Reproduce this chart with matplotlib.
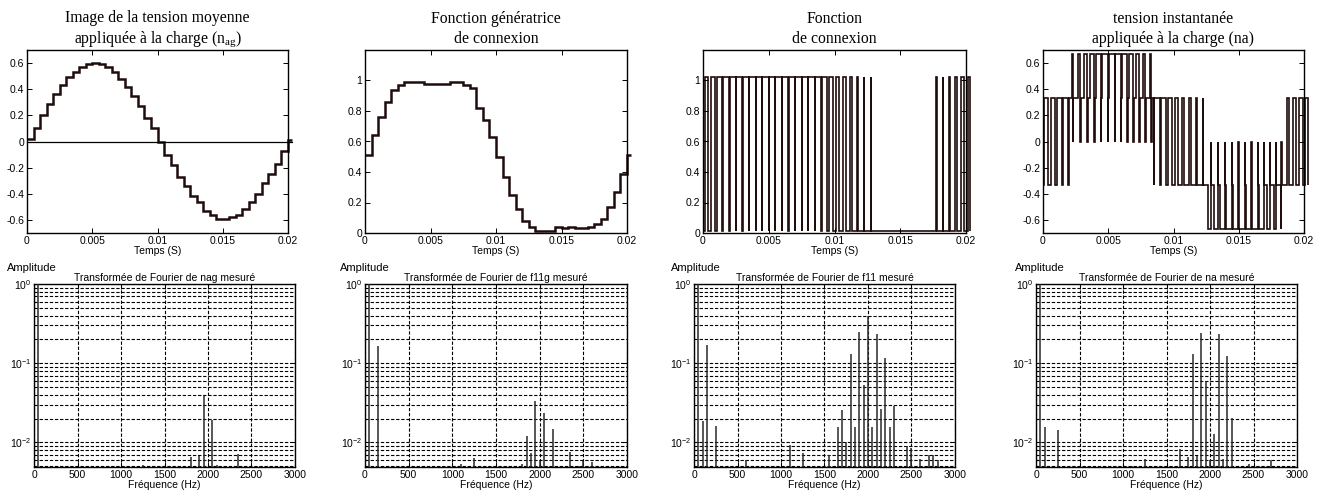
import numpy as np
import matplotlib
matplotlib.use('Agg')
import matplotlib.pyplot as plt
from matplotlib.ticker import LogLocator, LogFormatterMathtext, NullFormatter, FixedLocator

plt.rcParams['font.family'] = ['Liberation Sans', 'DejaVu Sans']
plt.rcParams['mathtext.fontset'] = 'custom'
plt.rcParams['mathtext.rm'] = 'Liberation Sans'
plt.rcParams['mathtext.it'] = 'Liberation Sans:italic'

# ---------------- data ----------------
T = 0.0005          # carrier period (s)
t_end = 0.0203      # signals run slightly past the last tick

# mean-voltage image n_ag, one level per carrier period
nag_levels = [0.02, 0.10, 0.20, 0.29, 0.36, 0.43, 0.49, 0.53, 0.57, 0.59,
              0.60, 0.59, 0.57, 0.53, 0.48, 0.42, 0.35, 0.27, 0.18, 0.10,
              0.00, -0.10, -0.18, -0.27, -0.34, -0.42, -0.46, -0.53, -0.56, -0.59,
              -0.59, -0.58, -0.56, -0.52, -0.46, -0.40, -0.32, -0.25, -0.17, -0.07,
              0.01]

# generating connection function f11g
f11g_levels = [0.51, 0.64, 0.76, 0.86, 0.94, 0.97, 0.99, 0.99, 0.99, 0.98,
               0.98, 0.98, 0.98, 0.99, 0.99, 0.97, 0.95, 0.82, 0.74, 0.63,
               0.50, 0.37, 0.25, 0.16, 0.08, 0.04, 0.01, 0.01, 0.01, 0.04,
               0.03, 0.04, 0.03, 0.03, 0.04, 0.06, 0.09, 0.17, 0.27, 0.39,
               0.51]

# connection function f11: duty of the high state in each period
f11_duty = [0.50, 0.64, 0.76, 0.86, 0.93, 0.96, 0.98, 0.98, 0.98, 0.98,
            0.98, 0.98, 0.98, 0.98, 0.98, 0.96, 0.94, 0.82, 0.74, 0.63,
            0.50, 0.37, 0.25, 0.16, 0.08, 0.04, 0.00, 0.00, 0.00, 0.00,
            0.00, 0.00, 0.00, 0.00, 0.00, 0.05, 0.09, 0.17, 0.27, 0.39,
            0.51]
f11_low, f11_high = 0.01, 1.02

# instantaneous load voltage na: base level, pulse level, pulse width, spike level
na_base = [-0.33] * 4 + [0.33] * 13 + [-0.33] * 8 + [-0.33] * 12 + [-0.33] * 4
na_pulse = [0.33] * 4 + [0.67] * 13 + [0.33] * 8 + [-0.67] * 12 + [0.33] * 4
na_width = [0.55, 0.60, 0.70, 0.75,
            0.22, 0.40, 0.58, 0.70, 0.83, 0.89, 0.92, 0.89, 0.83, 0.70, 0.55, 0.37, 0.16,
            0.90, 0.76, 0.64, 0.49, 0.34, 0.22, 0.20, 0.10,
            0.37, 0.49, 0.71, 0.80, 0.89, 0.89, 0.86, 0.80, 0.68, 0.49, 0.31, 0.10,
            0.30, 0.45, 0.55, 0.55]
na_spike = [-0.33] * 4 + [0.0] * 13 + [-0.33] * 8 + [0.0] * 12 + [-0.33] * 4

# spectra (Hz, amplitude)
fft_nag_f = [50, 1250, 1800, 1900, 1950, 2050, 2100, 2350, 2600]
fft_nag_a = [1.0, 0.0052, 0.0066, 0.0068, 0.039, 0.0192, 0.0052, 0.0071, 0.0051]

fft_f11g_f = [50, 150, 1100, 1250, 1800, 1850, 1900, 1950, 2000, 2050, 2150, 2350, 2450, 2500, 2600]
fft_f11g_a = [1.0, 0.164, 0.0054, 0.0063, 0.0054, 0.0119, 0.0073, 0.0334, 0.0058, 0.0232,
              0.0147, 0.0075, 0.0051, 0.0058, 0.0057]

fft_f11_f = [50, 100, 150, 250, 600, 1100, 1250, 1550, 1650, 1700, 1750, 1800, 1850, 1900,
             1950, 2000, 2050, 2100, 2150, 2200, 2250, 2300, 2450, 2500, 2600, 2700, 2750, 2800]
fft_f11_a = [1.0, 0.0186, 0.169, 0.0161, 0.0060, 0.0094, 0.0073, 0.0069, 0.0158, 0.026,
             0.0100, 0.131, 0.0158, 0.251, 0.0538, 0.40, 0.0158, 0.234, 0.0268, 0.117,
             0.0158, 0.0287, 0.0089, 0.0085, 0.0062, 0.0069, 0.0069, 0.0060]

fft_na_f = [50, 100, 250, 1100, 1250, 1650, 1750, 1800, 1850, 1900, 1950, 2000, 2050,
            2100, 2150, 2200, 2250, 2450, 2700]
fft_na_a = [1.0, 0.0158, 0.0143, 0.0051, 0.0062, 0.0082, 0.0065, 0.130, 0.0067, 0.240,
            0.0598, 0.0060, 0.0128, 0.235, 0.0062, 0.124, 0.0201, 0.0053, 0.0060]

top_titles = ["Image de la tension moyenne\nappliquée à la charge (n$\\mathregular{_{ag}}$)",
              "Fonction génératrice\nde connexion",
              "Fonction\nde connexion",
              "tension instantanée\nappliquée à la charge (na)"]
bottom_titles = ["Transformée de Fourier de nag mesuré",
                 "Transformée de Fourier de f11g mesuré",
                 "Transformée de Fourier de f11 mesuré",
                 "Transformée de Fourier de na mesuré"]

# ---------------- build step waveforms ----------------
def period_edges(n):
    e = np.arange(n + 1) * T
    return np.minimum(e, t_end)

def f11_wave():
    edges, vals = [0.0], []
    for k, d in enumerate(f11_duty):
        t0 = k * T
        if d <= 0:
            edges += [t0 + T]
            vals += [f11_low]
            continue
        edges += [t0 + (1 - d) * T / 2, t0 + (1 + d) * T / 2, t0 + T]
        vals += [f11_low, f11_high, f11_low]
    return np.minimum(np.array(edges), t_end), np.array(vals)

def na_wave():
    sp = 0.05
    edges, vals = [0.0], []
    for k in range(len(na_base)):
        t0 = k * T
        p = na_width[k]
        a = (1 - p) * T / 2
        edges += [t0 + a, t0 + a + p * T, t0 + a + p * T + sp * T, t0 + T]
        vals += [na_base[k], na_pulse[k], na_spike[k], na_base[k]]
    return np.minimum(np.array(edges), t_end), np.array(vals)

# ---------------- figure ----------------
fig = plt.figure(figsize=(13.27, 4.93), dpi=100)
curve_col = '#1f0c0c'

top_lefts = [27, 365, 703, 1043]
top_widths = [261, 262, 263, 261]
bot_lefts = [34, 365, 694, 1036]
bot_widths = [261, 262, 261, 261]
W, H = 1327.0, 493.0

def style_ticks(ax):
    ax.tick_params(direction='in', top=True, right=True, length=3.5, width=0.7,
                   labelsize=7.5, pad=2)
    ax.tick_params(which='minor', length=0)
    for s in ax.spines.values():
        s.set_linewidth(1.0)

top_axes = []
for i in range(4):
    ax = fig.add_axes([top_lefts[i] / W, 1 - 233 / H, top_widths[i] / W, 183 / H])
    top_axes.append(ax)
    ax.set_xlim(0, 0.02)
    ax.set_xticks([0, 0.005, 0.01, 0.015, 0.02])
    ax.set_xticklabels(['0', '0.005', '0.01', '0.015', '0.02'])
    ax.set_xlabel('Temps (S)', fontsize=7.5, labelpad=0)
    ax.set_title(top_titles[i], fontsize=11.3, family=['Liberation Serif', 'DejaVu Serif'],
                 pad=5, linespacing=1.3)
    style_ticks(ax)

# 1: nag
ax = top_axes[0]
ax.stairs(nag_levels, period_edges(len(nag_levels)), color=curve_col, lw=1.8,
          baseline=None, clip_on=False)
ax.plot([0, t_end], [0, 0], color='k', lw=0.9, clip_on=False)
ax.set_ylim(-0.7, 0.7)
ax.set_yticks([-0.6, -0.4, -0.2, 0, 0.2, 0.4, 0.6])
ax.set_yticklabels(['-0.6', '-0.4', '-0.2', '0', '0.2', '0.4', '0.6'])

# 2: f11g
ax = top_axes[1]
ax.stairs(f11g_levels, period_edges(len(f11g_levels)), color=curve_col, lw=1.8,
          baseline=None, clip_on=False)
ax.set_ylim(0, 1.2)
ax.set_yticks([0, 0.2, 0.4, 0.6, 0.8, 1])
ax.set_yticklabels(['0', '0.2', '0.4', '0.6', '0.8', '1'])

# 3: f11
ax = top_axes[2]
e, v = f11_wave()
ax.stairs(v, e, color=curve_col, lw=1.2, baseline=None, clip_on=False)
ax.set_ylim(0, 1.2)
ax.set_yticks([0, 0.2, 0.4, 0.6, 0.8, 1])
ax.set_yticklabels(['0', '0.2', '0.4', '0.6', '0.8', '1'])

# 4: na
ax = top_axes[3]
e, v = na_wave()
ax.stairs(v, e, color=curve_col, lw=1.2, baseline=None, clip_on=False)
ax.set_ylim(-0.7, 0.7)
ax.set_yticks([-0.6, -0.4, -0.2, 0, 0.2, 0.4, 0.6])
ax.set_yticklabels(['-0.6', '-0.4', '-0.2', '0', '0.2', '0.4', '0.6'])

# bottom spectra
spectra = [(fft_nag_f, fft_nag_a), (fft_f11g_f, fft_f11g_a),
           (fft_f11_f, fft_f11_a), (fft_na_f, fft_na_a)]
amp_x = [7, 340, 671, 1015]
for i in range(4):
    ax = fig.add_axes([bot_lefts[i] / W, 1 - 467 / H, bot_widths[i] / W, 183 / H])
    f, a = spectra[i]
    ax.set_yscale('log')
    ax.set_ylim(4.9e-3, 1.0)
    ax.set_xlim(0, 3000)
    ax.vlines(f, 1e-4, a, colors='#2a2a2a', lw=1.1, zorder=3)
    ax.set_xticks(np.arange(0, 3001, 500))
    ax.yaxis.set_major_locator(FixedLocator([1e-2, 1e-1, 1e0]))
    ax.yaxis.set_major_formatter(LogFormatterMathtext())
    ax.yaxis.set_minor_locator(LogLocator(base=10, subs=np.arange(2, 10), numticks=20))
    ax.yaxis.set_minor_formatter(NullFormatter())
    ax.grid(True, which='major', axis='both', ls=(0, (3, 1.6)), color='k', lw=0.8)
    ax.grid(True, which='minor', axis='y', ls=(0, (3, 1.6)), color='k', lw=0.8)
    ax.set_axisbelow(True)
    style_ticks(ax)
    ax.set_title(bottom_titles[i], fontsize=7.5, pad=2)
    ax.set_xlabel('Fréquence (Hz)', fontsize=7.5, labelpad=0)
    fig.text(amp_x[i] / W, 1 - 268 / H, 'Amplitude', fontsize=8, ha='left', va='center')

fig.savefig('out.png', dpi=100)
